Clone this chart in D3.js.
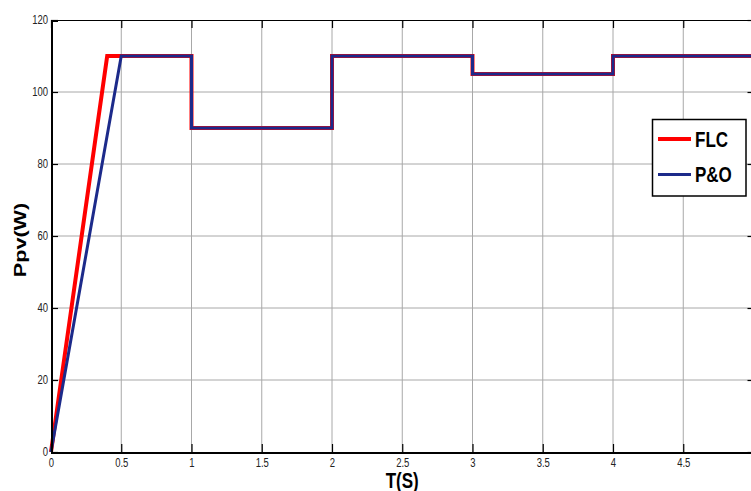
<!DOCTYPE html>
<html><head><meta charset="utf-8">
<script src="https://cdn.jsdelivr.net/npm/d3@7"></script>
<style>body{margin:0;background:#fff}svg{display:block}</style>
</head><body>
<svg id="c" width="751" height="491"></svg>
<script>
// Data
const seriesNames = ["FLC", "P&O"];
const seriesColors = ["#ff0000", "#1c2a8a"];
const flcT = [0, 0.4, 1, 1, 2, 2, 3, 3, 4, 4, 5];
const flcP = [0, 110, 110, 90, 90, 110, 110, 105, 105, 110, 110];
const poT  = [0, 0.5, 1, 1, 2, 2, 3, 3, 4, 4, 5];
const poP  = [0, 110, 110, 90, 90, 110, 110, 105, 105, 110, 110];
const xTicks = [0, 0.5, 1, 1.5, 2, 2.5, 3, 3.5, 4, 4.5, 5];
const xTickLabels = ["0", "0.5", "1", "1.5", "2", "2.5", "3", "3.5", "4", "4.5", ""];
const yTicks = [0, 20, 40, 60, 80, 100, 120];
const xTitle = "T(S)";
const yTitle = "Ppv(W)";

const svg = d3.select("#c");
const L = 51, T = 20, R = 753.5, B = 452;
const x = d3.scaleLinear().domain([0, 5]).range([L, R]);
const y = d3.scaleLinear().domain([0, 120]).range([B, T]);

svg.append("rect").attr("width", 751).attr("height", 491).attr("fill", "#fff");

// grid
const g = svg.append("g");
g.selectAll("line.vx").data(xTicks.slice(1)).join("line")
  .attr("x1", d => x(d)).attr("x2", d => x(d)).attr("y1", T).attr("y2", B)
  .attr("stroke", "#a8a8a8").attr("stroke-width", 1);
g.selectAll("line.hy").data(yTicks.slice(1, -1)).join("line")
  .attr("y1", d => y(d)).attr("y2", d => y(d)).attr("x1", L).attr("x2", R)
  .attr("stroke", "#a8a8a8").attr("stroke-width", 1);

// lines
const line = d3.line().x(d => x(d[0])).y(d => y(d[1])).curve(d3.curveLinear);
const flc = flcT.map((t, i) => [t, flcP[i]]);
const po = poT.map((t, i) => [t, poP[i]]);
svg.append("path").datum(flc).attr("d", line).attr("fill", "none")
  .attr("stroke", seriesColors[0]).attr("stroke-width", 4).attr("stroke-linejoin", "miter");
svg.append("path").datum(po).attr("d", line).attr("fill", "none")
  .attr("stroke", seriesColors[1]).attr("stroke-width", 3).attr("stroke-linejoin", "miter");

// axes
const fontTick = "Liberation Sans, Arial, sans-serif";
const axB = svg.append("g").attr("transform", `translate(0,${B})`)
  .call(d3.axisBottom(x).tickValues(xTicks).tickFormat((d, i) => xTickLabels[i]).tickSize(-8).tickPadding(0));
axB.select(".domain").attr("stroke", "#000").attr("stroke-width", 2);
axB.selectAll(".tick line").attr("stroke", "#000").attr("stroke-width", 1.2);
axB.selectAll(".tick text").attr("y", 0).attr("dy", 0)
  .attr("transform", "translate(0,15) scale(1,1.25)")
  .attr("font-family", fontTick).attr("font-size", 9.5).attr("fill", "#222");

const axT = svg.append("g").attr("transform", `translate(0,${T})`)
  .call(d3.axisTop(x).tickValues(xTicks).tickFormat("").tickSize(-8));
axT.select(".domain").attr("stroke", "#000").attr("stroke-width", 1.5);
axT.selectAll(".tick line").attr("stroke", "#000").attr("stroke-width", 1.2);

const axL = svg.append("g").attr("transform", `translate(${L},0)`)
  .call(d3.axisLeft(y).tickValues(yTicks).tickSize(-7).tickPadding(0));
axL.select(".domain").attr("stroke", "#000").attr("stroke-width", 2);
axL.selectAll(".tick line").attr("stroke", "#000").attr("stroke-width", 1.2);
axL.selectAll(".tick text").attr("x", 0).attr("dy", 0)
  .attr("text-anchor", "end")
  .attr("transform", "translate(-3,3.8) scale(1,1.25)")
  .attr("font-family", fontTick).attr("font-size", 9.5).attr("fill", "#222");

const axR = svg.append("g").attr("transform", `translate(${R},0)`)
  .call(d3.axisRight(y).tickValues(yTicks).tickFormat("").tickSize(-6));
axR.select(".domain").attr("stroke", "#000").attr("stroke-width", 1.5);
axR.selectAll(".tick line").attr("stroke", "#000").attr("stroke-width", 1.2);

svg.selectAll(".domain").attr("shape-rendering", "crispEdges");

// titles
svg.append("text").text(xTitle)
  .attr("transform", `translate(${(L + R) / 2},488) scale(1,1.25)`)
  .attr("text-anchor", "middle").attr("font-family", "Liberation Sans, Arial, sans-serif")
  .attr("font-weight", "bold").attr("font-size", 17).attr("fill", "#000");
svg.append("text").text(yTitle)
  .attr("transform", `translate(26,240) scale(1,1.35) rotate(-90)`)
  .attr("text-anchor", "middle").attr("font-family", "Liberation Sans, Arial, sans-serif")
  .attr("font-weight", "bold").attr("font-size", 16).attr("fill", "#000");

// legend
const lg = svg.append("g");
lg.append("rect").attr("x", 652.5).attr("y", 119.5).attr("width", 93.5).attr("height", 76.5)
  .attr("fill", "#fff").attr("stroke", "#000").attr("stroke-width", 1.5);
const ly = d3.scalePoint().domain(seriesNames).range([139, 174.5]);
seriesNames.forEach((n, i) => {
  lg.append("line").attr("x1", 658).attr("x2", 691).attr("y1", ly(n)).attr("y2", ly(n))
    .attr("stroke", seriesColors[i]).attr("stroke-width", i === 0 ? 4 : 3);
  lg.append("text").text(n)
    .attr("transform", `translate(695,${ly(n) + 7.5}) scale(1,1.25)`)
    .attr("font-family", "Liberation Sans, Arial, sans-serif").attr("font-weight", "bold")
    .attr("font-size", 17).attr("fill", "#000");
});
</script>
</body></html>
